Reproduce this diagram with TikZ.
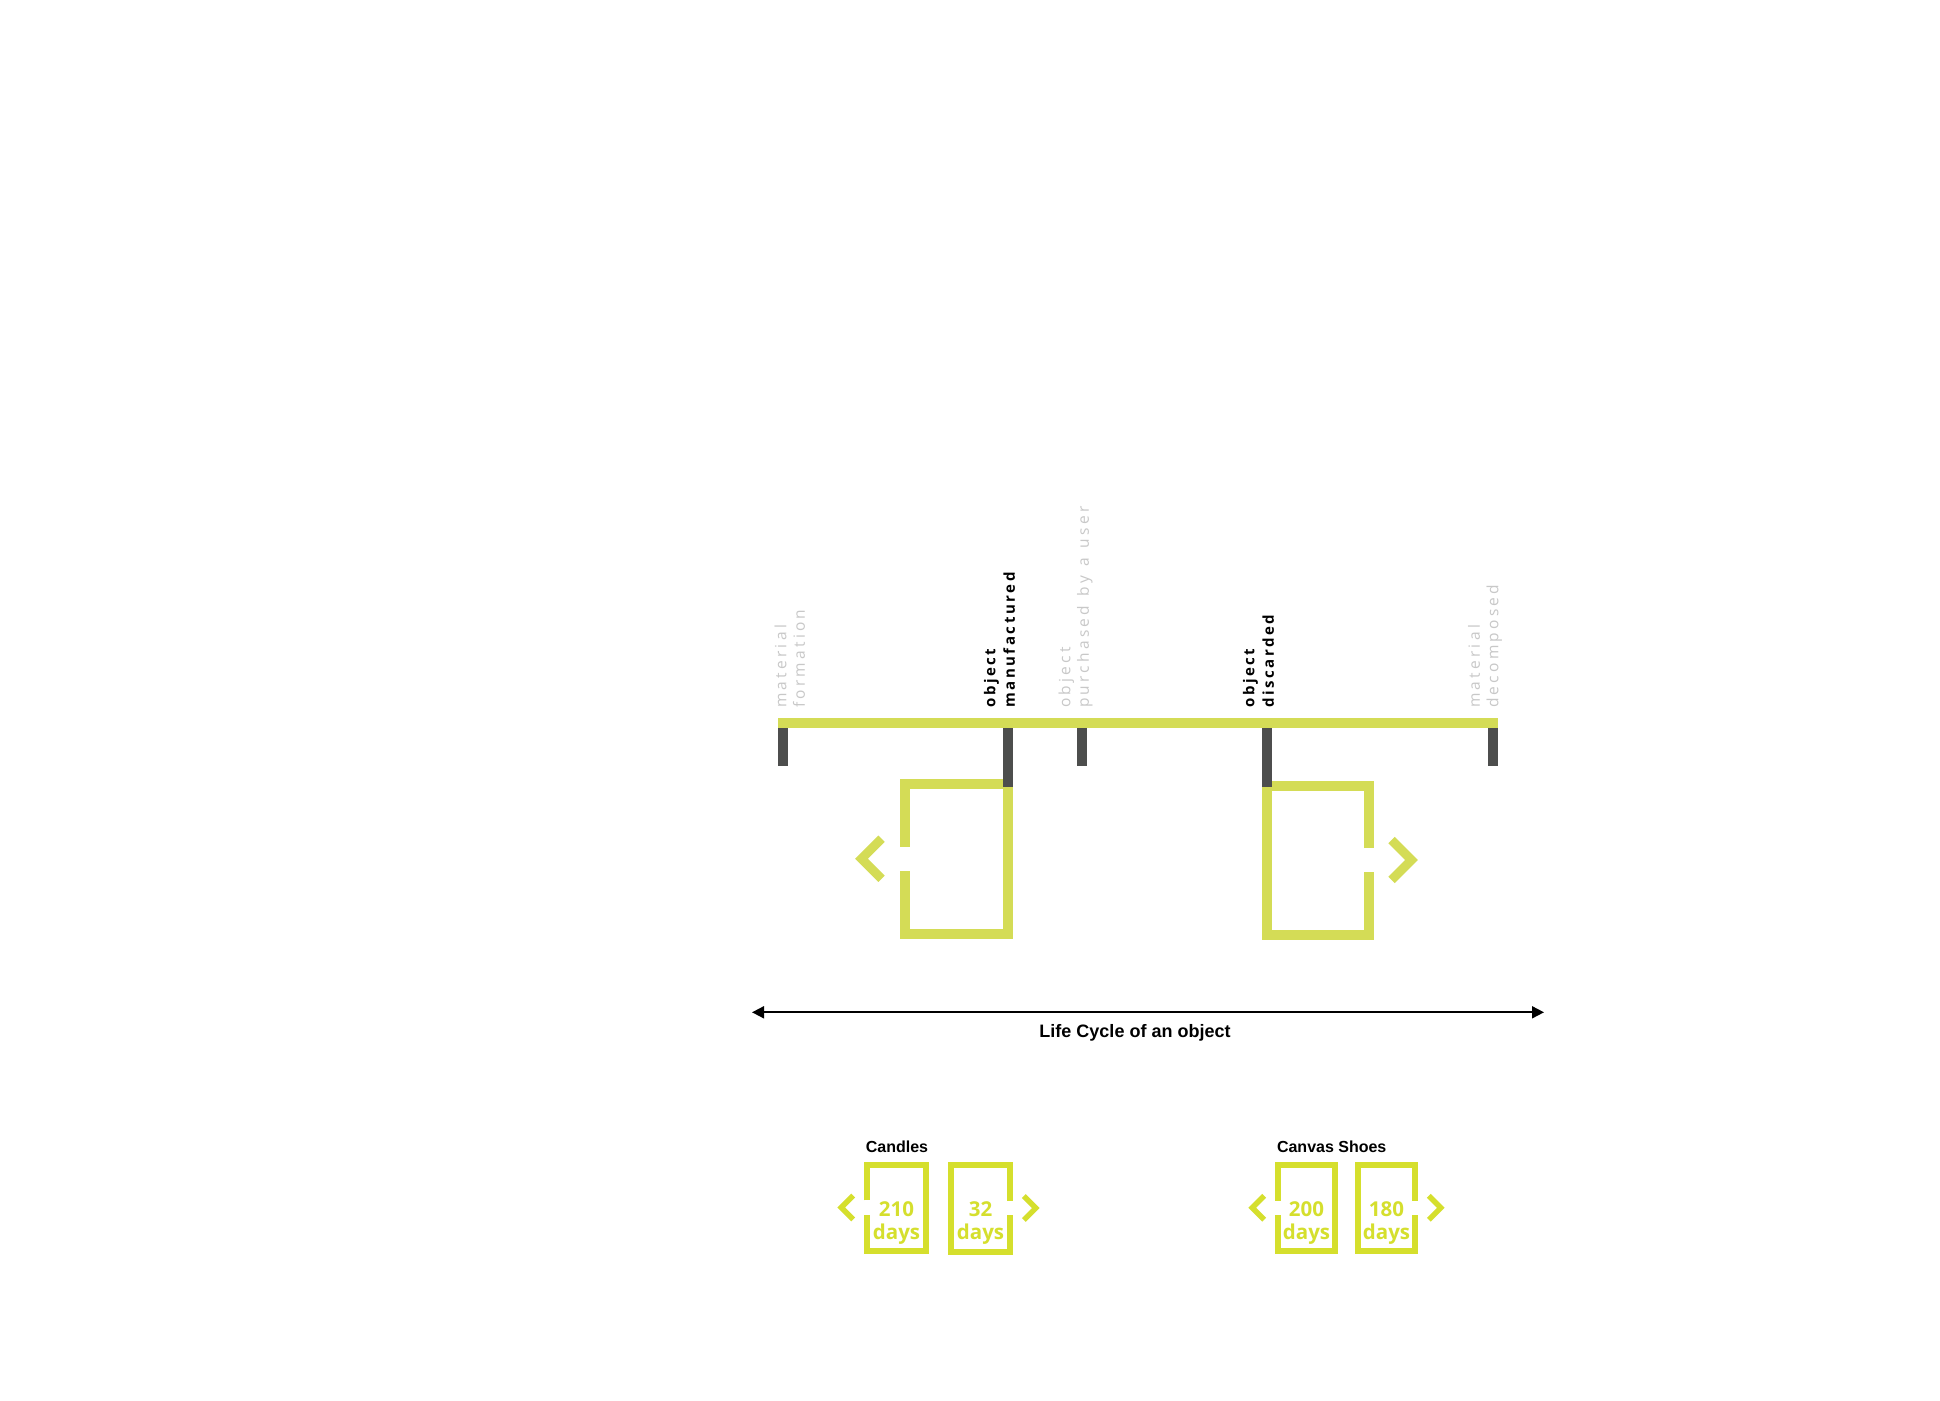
\documentclass[tikz,border=0pt]{standalone}
\usepackage{fontspec}
\setmainfont{Liberation Sans}
\newfontfamily\ticklabelfont{Open Sans}[LetterSpace=21,WordSpace=1.3]
\newfontfamily\tickboldfont{Open Sans}[LetterSpace=17]
\newfontfamily\daysfont{Open Sans}
\usetikzlibrary{arrows.meta}
\definecolor{barlime}{RGB}{212,220,86}
\definecolor{iconlime}{RGB}{213,223,45}
\definecolor{tickgray}{RGB}{77,78,77}
\definecolor{labelgray}{RGB}{200,200,200}
\newcommand{\leftbox}[6]{\draw[#1,line width={10*#2},line join=miter] (#3,{(#4+#6)/2-12*#2}) -- (#3,#4) -- (#5,#4) -- (#5,#6) -- (#3,#6) -- (#3,{(#4+#6)/2+12*#2});
\draw[#1,line width={9*#2},line join=miter] ({#3-23*#2},{(#4+#6)/2-20*#2}) -- ({#3-43*#2},{(#4+#6)/2}) -- ({#3-23*#2},{(#4+#6)/2+20*#2});}
\newcommand{\rightbox}[6]{\draw[#1,line width={10*#2},line join=miter] (#5,{(#4+#6)/2-12*#2}) -- (#5,#4) -- (#3,#4) -- (#3,#6) -- (#5,#6) -- (#5,{(#4+#6)/2+12*#2});
\draw[#1,line width={9*#2},line join=miter] ({#5+23*#2},{(#4+#6)/2-20*#2}) -- ({#5+43*#2},{(#4+#6)/2}) -- ({#5+23*#2},{(#4+#6)/2+20*#2});}

\begin{document}
\begin{tikzpicture}[x=1pt,y=-1pt,
  ticklbl/.style={rotate=90,anchor=south west,inner sep=0pt,text depth=0pt,align=left,labelgray,font=\ticklabelfont\fontsize{15.5}{18.5}\selectfont},
  tickbold/.style={rotate=90,anchor=south west,inner sep=0pt,text depth=0pt,align=left,black,font=\tickboldfont\bfseries\fontsize{15}{19.5}\selectfont},
  daysnum/.style={anchor=south,inner sep=0pt,text depth=0pt,align=center,iconlime,font=\daysfont\bfseries\fontsize{20.5}{23.3}\selectfont},
  itemtitle/.style={anchor=base,inner sep=0pt,font=\bfseries\fontsize{16}{19}\selectfont}]
\fill[white] (0,0) rectangle (1940,1400);
\useasboundingbox (0,0) rectangle (1940,1400);
\draw[barlime,line width=10] (778,723) -- (1498,723);
\leftbox{barlime}{1}{904.5}{784}{1007.5}{933.5}
\rightbox{barlime}{1}{1267}{785.5}{1368.5}{934.5}
\foreach \x/\e in {783/766,1007.5/787,1082/766,1267/787,1493/766}{
  \draw[tickgray,line width=10] (\x,728) -- (\x,\e);
}
\foreach \x/\t/\s/\nm in {
805/{material\\formation}/ticklbl/lblformed,
1015/{object\\manufactured}/tickbold/lblmade,
1089/{object\\purchased by a user}/ticklbl/lblbought,
1274/{object\\discarded}/tickbold/lbldiscard,
1498.5/{material\\decomposed}/ticklbl/lbldecomp}{
  \node[\s] (\nm) at (\x,708) {\t};
}
\coordinate (lcL) at (752,1012.3);
\coordinate (lcR) at (1544,1012.3);
\draw[line width=1.8,{Triangle[length=12,width=12]}-{Triangle[length=12,width=12]}] (lcL) -- (lcR);
\node[anchor=base,inner sep=0pt,font=\bfseries\fontsize{18}{21}\selectfont] (lctext) at (1135,1037) {Life Cycle of an object};
\node[itemtitle] (candles) at (897,1152.5) {Candles};
\node[itemtitle] (shoes) at (1331.7,1152.5) {Canvas Shoes};
\leftbox{iconlime}{0.6}{867}{1164.5}{926}{1250.5}
\rightbox{iconlime}{0.6}{951}{1164.5}{1010}{1251.5}
\leftbox{iconlime}{0.6}{1278}{1165}{1335}{1250.5}
\rightbox{iconlime}{0.6}{1358}{1165}{1415}{1250.5}
\foreach \x/\n/\nm in {896.5/210/candlesA,980.5/32/candlesB,1306.5/200/shoesA,1386.5/180/shoesB}{
  \node[daysnum] (\nm) at (\x,1240) {\n\\days};
}
\end{tikzpicture}
\end{document}
